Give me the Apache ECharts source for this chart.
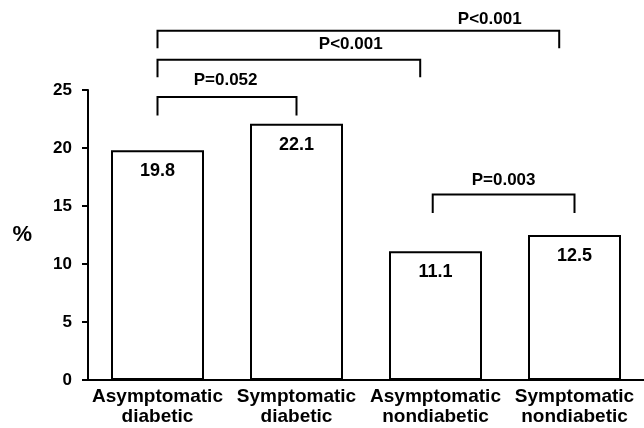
<!DOCTYPE html>
<html>
<head>
<meta charset="utf-8">
<script src="https://cdn.jsdelivr.net/npm/echarts@6/dist/echarts.min.js"></script>
<style>
  html, body { margin: 0; padding: 0; background: #fff; }
  #chart { width: 644px; height: 428px; }
</style>
</head>
<body>
<div id="chart"></div>
<script>
const categories = ['Asymptomatic\ndiabetic', 'Symptomatic\ndiabetic', 'Asymptomatic\nnondiabetic', 'Symptomatic\nnondiabetic'];
const percentValues = [19.8, 22.1, 11.1, 12.5];
const yTicks = [0, 5, 10, 15, 20, 25];

// brackets: [x from, x to, top, drop end] in category index / % units
const bracketSpans = [[0, 1, 24.4, 22.8], [0, 1.89, 27.6, 26.1], [0, 2.89, 30.1, 28.6], [1.98, 3, 16.0, 14.4]];
const bracketLabels = ['P=0.052', 'P<0.001', 'P<0.001', 'P=0.003'];
const bracketLabelX = [0.49, 1.39, 2.39, 2.49];
const bracketLabelY = [25.8, 28.9, 31.1, 17.2];

const FONT = '"Liberation Sans", Arial, sans-serif';
const chart = echarts.init(document.getElementById('chart'));

chart.setOption({
    animation: false,
    grid: { left: 88, top: 90, bottom: 48, width: 560 },
    xAxis: [
        {
            type: 'category',
            data: categories,
            axisLine: { lineStyle: { color: '#000', width: 2 } },
            axisTick: { show: false },
            axisLabel: {
                color: '#000', fontFamily: FONT, fontWeight: 'bold',
                fontSize: 19, lineHeight: 20, margin: 7, interval: 0
            }
        },
        { type: 'value', min: -0.5, max: 3.5, show: false }
    ],
    yAxis: {
        type: 'value',
        min: yTicks[0],
        max: yTicks[yTicks.length - 1],
        interval: 5,
        name: '%',
        nameLocation: 'middle',
        nameRotate: 0,
        nameGap: 56,
        nameTextStyle: { color: '#000', fontFamily: FONT, fontWeight: 'bold', fontSize: 22, align: 'right', padding: [0, 0, 6, 0] },
        axisLine: { show: true, onZero: false, lineStyle: { color: '#000', width: 2 } },
        axisTick: { show: true, length: 6, lineStyle: { color: '#000', width: 2 } },
        splitLine: { show: false },
        axisLabel: { color: '#000', fontFamily: FONT, fontWeight: 'bold', fontSize: 17, margin: 16 }
    },
    series: [
        {
            type: 'bar',
            data: percentValues,
            barWidth: 93,
            itemStyle: { color: '#fff', borderColor: '#000', borderWidth: 2 },
            label: {
                show: true,
                position: 'insideTop',
                distance: 12,
                color: '#000',
                fontFamily: FONT,
                fontWeight: 'bold',
                fontSize: 18,
                formatter: p => p.value.toFixed(1)
            }
        },
        {
            type: 'custom',
            xAxisIndex: 1,
            clip: false,
            data: bracketSpans.map((s, i) => [s[0], s[1], s[2], s[3], bracketLabelX[i], bracketLabelY[i], i]),
            renderItem: function (params, api) {
                const a = api.coord([api.value(0), api.value(2)]);
                const b = api.coord([api.value(1), api.value(2)]);
                const a2 = api.coord([api.value(0), api.value(3)]);
                const b2 = api.coord([api.value(1), api.value(3)]);
                const t = api.coord([api.value(4), api.value(5)]);
                return {
                    type: 'group',
                    children: [
                        {
                            type: 'polyline',
                            shape: { points: [a2, a, b, b2] },
                            style: { stroke: '#000', lineWidth: 2, fill: null }
                        },
                        {
                            type: 'text',
                            style: {
                                text: bracketLabels[api.value(6)],
                                x: t[0], y: t[1],
                                align: 'center', verticalAlign: 'middle',
                                font: 'bold 17px ' + FONT,
                                fill: '#000'
                            }
                        }
                    ]
                };
            }
        }
    ]
});
</script>
</body>
</html>
